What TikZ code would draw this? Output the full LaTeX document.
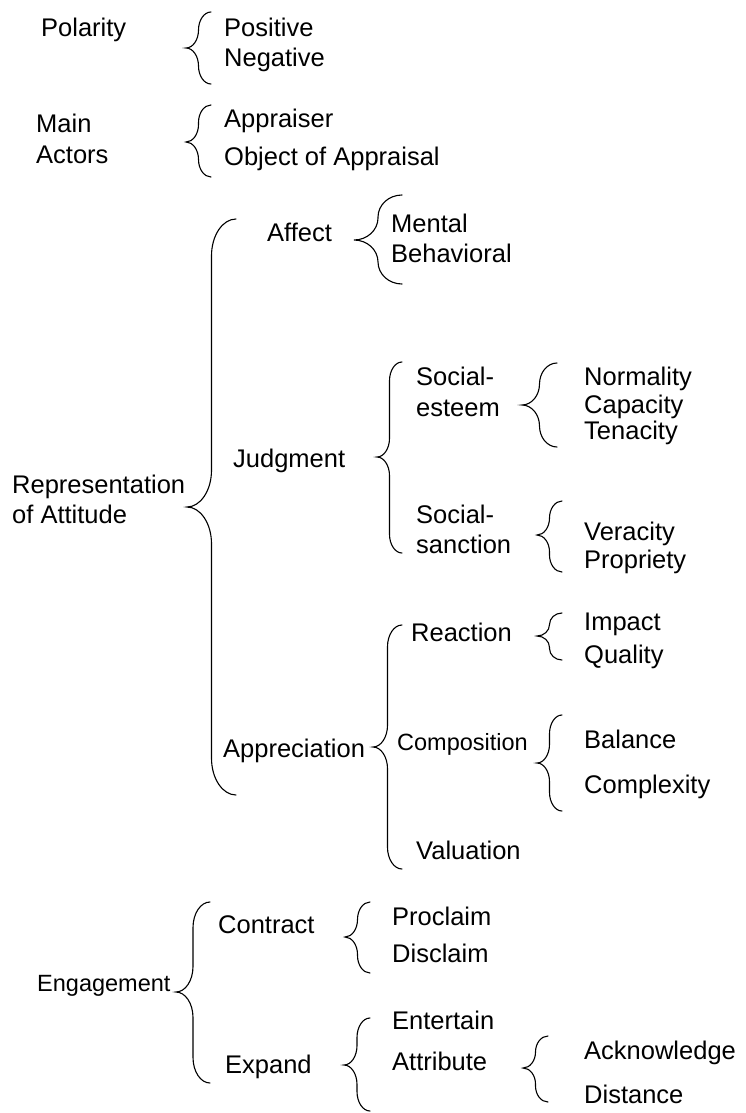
\documentclass[tikz,border=0pt]{standalone}
\usepackage{fontspec}
\setmainfont{Liberation Sans}
\usetikzlibrary{calc}

% curly brace: top end, tip, bottom end
\newcommand{\curly}[3]{%
  \draw[brace] let \p1=(#1), \p2=(#2), \p3=(#3),
    \n1={(\x1+\x2)/2}, \n3={\x1-\n1},
    \n2={min(1.5*\n3, (\y1-\y2)/2, (\y2-\y3)/2)} in
    (\p1) .. controls (\n1+0.45*\n3,\y1) and (\n1,\y1-0.45*\n2) .. (\n1,\y1-\n2)
    -- (\n1,\y2+\n2) .. controls (\n1,\y2+0.45*\n2) and (\n1-0.45*\n3,\y2) .. (\p2)
    .. controls (\n1-0.45*\n3,\y2) and (\n1,\y2-0.45*\n2) .. (\n1,\y2-\n2)
    -- (\n1,\y3+\n2) .. controls (\n1,\y3+0.45*\n2) and (\n1+0.45*\n3,\y3) .. (\p3);}

\begin{document}
\begin{tikzpicture}[x=1pt, y=-1pt]
  \tikzstyle{lbl}=[anchor=base west, inner sep=0pt, font=\fontsize{25.5}{30}\selectfont]
  \tikzstyle{sml}=[lbl, font=\fontsize{23.5}{28}\selectfont]
  \tikzstyle{brace}=[line width=1.1pt, line cap=round]

  \useasboundingbox (0, 0) rectangle (745, 1113);

  % polarity and actors
  \node (pol) at (41, 37) [lbl] {Polarity};
  \node (pos) at (224, 37) [lbl] {Positive};
  \node (neg) at (224, 67) [lbl] {Negative};
  \node (main) at (36, 132) [lbl] {Main};
  \node (act) at (36, 163) [lbl] {Actors};
  \node (apr) at (224, 128) [lbl] {Appraiser};
  \node (obj) at (224, 165) [lbl] {Object of Appraisal};

  % attitude
  \node (rep) at (12, 493) [lbl] {Representation};
  \node (att) at (12, 523) [lbl] {of Attitude};
  \node (aff) at (267, 241) [lbl] {Affect};
  \node (men) at (391, 232) [lbl] {Mental};
  \node (beh) at (391, 262) [lbl] {Behavioral};
  \node (jud) at (233, 467) [lbl] {Judgment};
  \node (soc1) at (416, 385) [lbl] {Social-};
  \node (est) at (416, 416) [lbl] {esteem};
  \node (nor) at (584, 385) [lbl] {Normality};
  \node (cap) at (584, 413) [lbl] {Capacity};
  \node (ten) at (584, 439) [lbl] {Tenacity};
  \node (soc2) at (416, 523) [lbl] {Social-};
  \node (san) at (416, 553) [lbl] {sanction};
  \node (ver) at (584, 540) [lbl] {Veracity};
  \node (pro) at (584, 568) [lbl] {Propriety};
  \node (app) at (223, 757) [lbl] {Appreciation};
  \node (rea) at (411, 641) [lbl] {Reaction};
  \node (imp) at (584, 630) [lbl] {Impact};
  \node (qua) at (584, 663) [lbl] {Quality};
  \node (com) at (397, 750) [sml] {Composition};
  \node (bal) at (584, 748) [lbl] {Balance};
  \node (cpx) at (584, 793) [lbl] {Complexity};
  \node (val) at (416, 859) [lbl] {Valuation};

  % engagement
  \node (eng) at (37, 991) [sml] {Engagement};
  \node (con) at (218, 933) [lbl] {Contract};
  \node (prc) at (392, 925) [lbl] {Proclaim};
  \node (dis) at (392, 962) [lbl] {Disclaim};
  \node (exp) at (225, 1073) [lbl] {Expand};
  \node (ent) at (392, 1029) [lbl] {Entertain};
  \node (atr) at (392, 1070) [lbl] {Attribute};
  \node (ack) at (584, 1059) [lbl] {Acknowledge};
  \node (dst) at (584, 1103) [lbl] {Distance};

  % brace ends and tips
  \coordinate (polT) at (211, 12);   \coordinate (polM) at (186, 48);   \coordinate (polB) at (211, 84);
  \coordinate (actT) at (211, 105);  \coordinate (actM) at (186, 142);  \coordinate (actB) at (211, 177);
  \coordinate (affT) at (402, 195);  \coordinate (affM) at (354, 240);  \coordinate (affB) at (402, 284);
  \coordinate (repT) at (236, 219);  \coordinate (repM) at (187, 507);  \coordinate (repB) at (236, 795);
  \coordinate (judT) at (402, 362);  \coordinate (judM) at (377, 457);  \coordinate (judB) at (402, 553);
  \coordinate (estT) at (557, 363);  \coordinate (estM) at (522, 405);  \coordinate (estB) at (557, 447);
  \coordinate (sanT) at (562, 501);  \coordinate (sanM) at (537, 535);  \coordinate (sanB) at (562, 572);
  \coordinate (appT) at (402, 625);  \coordinate (appM) at (373, 747);  \coordinate (appB) at (402, 869);
  \coordinate (reaT) at (562, 613);  \coordinate (reaM) at (537, 636);  \coordinate (reaB) at (562, 660);
  \coordinate (comT) at (562, 715);  \coordinate (comM) at (537, 763);  \coordinate (comB) at (562, 811);
  \coordinate (engT) at (210, 902);  \coordinate (engM) at (176, 992);  \coordinate (engB) at (210, 1083);
  \coordinate (conT) at (370, 902);  \coordinate (conM) at (345, 937);  \coordinate (conB) at (370, 973);
  \coordinate (expT) at (370, 1018); \coordinate (expM) at (344, 1065); \coordinate (expB) at (370, 1111);
  \coordinate (atrT) at (548, 1036); \coordinate (atrM) at (523, 1068); \coordinate (atrB) at (548, 1102);

  \curly{polT}{polM}{polB}
  \curly{actT}{actM}{actB}
  \curly{affT}{affM}{affB}
  \curly{repT}{repM}{repB}
  \curly{judT}{judM}{judB}
  \curly{estT}{estM}{estB}
  \curly{sanT}{sanM}{sanB}
  \curly{appT}{appM}{appB}
  \curly{reaT}{reaM}{reaB}
  \curly{comT}{comM}{comB}
  \curly{engT}{engM}{engB}
  \curly{conT}{conM}{conB}
  \curly{expT}{expM}{expB}
  \curly{atrT}{atrM}{atrB}
\end{tikzpicture}
\end{document}
